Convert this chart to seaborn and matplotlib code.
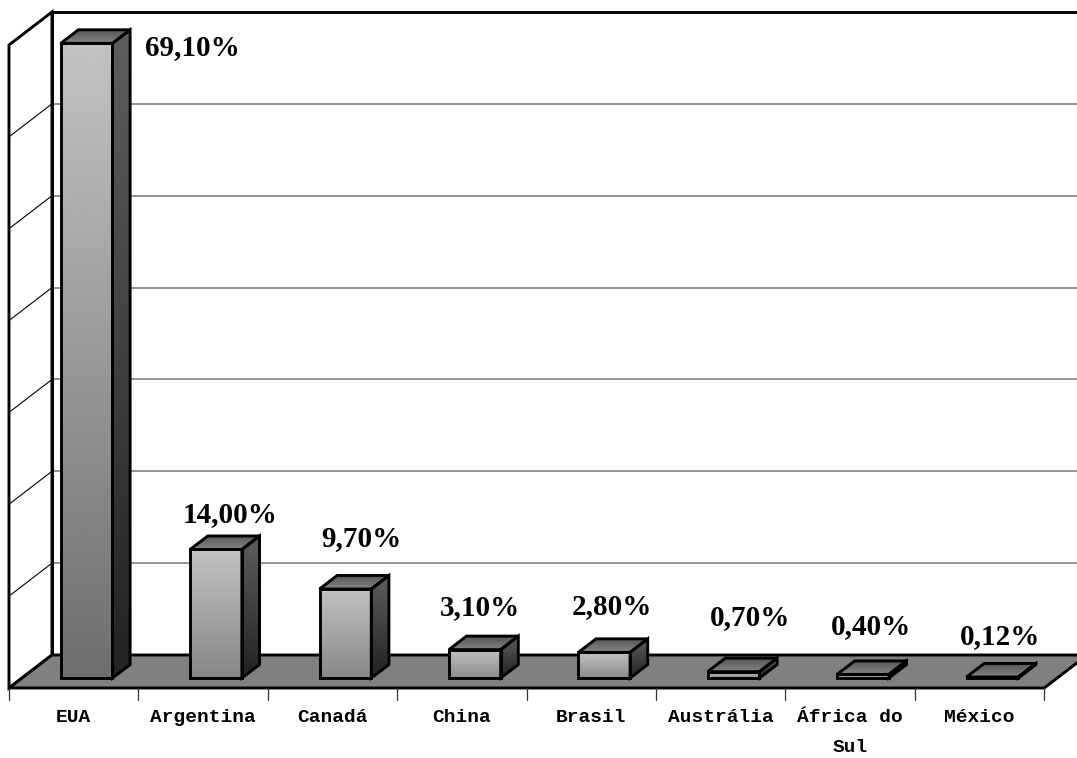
import numpy as np
import pandas as pd
import matplotlib
matplotlib.use("Agg")
import matplotlib.pyplot as plt
import matplotlib.transforms as mtransforms
from matplotlib.patches import Polygon
from matplotlib.lines import Line2D
import seaborn as sns

# ---- data -------------------------------------------------------------
countries = ["EUA", "Argentina", "Canadá", "China", "Brasil",
             "Austrália", "África do\nSul", "México"]
shares = [69.10, 14.00, 9.70, 3.10, 2.80, 0.70, 0.40, 0.12]
y_max = 70
y_step = 10

# nudges (pixels) of each value label from the top-back edge of its bar
label_nudge = [(88, -18), (-4, 21), (-2, 37), (-12, 29),
               (-10, 32), (-1, 41), (-10, 34), (-10, 27)]

# ---- geometry of the oblique 3-D box ---------------------------------
W, H, DPI = 1077, 758, 100
x_px0 = 73.7          # centre of first category on the front plane
cat_px = 129.4        # width of one category
base_px = 688.0       # floor front edge, from the top of the image
unit_px = 9.186       # pixels per percentage point
depth_dx_px, depth_dy_px = 43.0, 33.0

DX = depth_dx_px / cat_px
DY = depth_dy_px / unit_px
D0 = 0.30             # depth of the bars' front faces
BD = 0.41             # depth of the bars
BW = 0.40             # width of the bars
EDGE = 2.1            # outline width of bars and box


def vy(py):
    return (base_px - py) / unit_px


sns.set_theme(style="white")
plt.rcParams["font.family"] = ["Liberation Serif", "DejaVu Serif"]

fig = plt.figure(figsize=(W / DPI, H / DPI), dpi=DPI)
ax = fig.add_axes([0, 0, 1, 1])

df = pd.DataFrame({"country": countries, "share": shares})
sns.barplot(data=df, x="country", y="share", width=BW, color="white",
            errorbar=None, ax=ax, zorder=6)
bars = list(ax.patches)

n = len(countries)
xl, xr = -0.5, n - 0.5

# ---- walls, grid and floor -------------------------------------------
back = Polygon([(xl + DX, DY), (xr + 2, DY), (xr + 2, y_max + DY),
                (xl + DX, y_max + DY)], closed=True, facecolor="white",
               edgecolor="none", zorder=1)
ax.add_patch(back)
for g in range(y_step, y_max, y_step):
    ax.add_line(Line2D([xl + DX, xr + 2], [g + DY, g + DY], color="#808080",
                       lw=1.2, zorder=2))
    ax.add_line(Line2D([xl, xl + DX], [g, g + DY], color="black",
                       lw=0.8, zorder=2))
ax.add_line(Line2D([xl + DX, xr + 2], [y_max + DY, y_max + DY],
                   color="black", lw=EDGE, zorder=2))
ax.add_line(Line2D([xl + DX, xl + DX], [DY, y_max + DY],
                   color="black", lw=EDGE, zorder=2))

left = Polygon([(xl, 0), (xl + DX, DY), (xl + DX, y_max + DY), (xl, y_max)],
               closed=True, facecolor="none", edgecolor="black", lw=EDGE,
               zorder=2.5)
ax.add_patch(left)

floor = Polygon([(xl, 0), (xr, 0), (xr + DX, DY), (xl + DX, DY)],
                closed=True, facecolor="#808080", edgecolor="black", lw=EDGE,
                zorder=3)
ax.add_patch(floor)

tick_len = 12 / unit_px
for k in range(n + 1):
    ax.add_line(Line2D([xl + k, xl + k], [0, -tick_len], color="#303030",
                       lw=0.9, zorder=3))


def shaded(poly, extent, lo, hi, z):
    ramp = np.linspace(lo, hi, 256).reshape(-1, 1)
    im = ax.imshow(ramp, extent=extent, origin="lower", aspect="auto",
                   cmap="gray", vmin=0, vmax=255, interpolation="bilinear",
                   zorder=z)
    im.set_clip_path(poly)


# ---- bars ---------------------------------------------------------------
shift = mtransforms.Affine2D().translate(D0 * DX, D0 * DY) + ax.transData
for bar, v in zip(bars, shares):
    bar.set_transform(shift)
    bar.set_facecolor("none")
    bar.set_edgecolor("black")
    bar.set_linewidth(EDGE)
    bar.set_zorder(6)
    bar.set_joinstyle("miter")

    x0 = bar.get_x() + D0 * DX
    x1 = x0 + bar.get_width()
    y0 = D0 * DY
    y1 = bar.get_height() + D0 * DY

    # front face
    bottom = 140 - 30 * (v / y_max)
    shaded(bar, (x0, x1, y0, y1), bottom, 194, 5)

    # side face
    side = Polygon([(x1, y0), (x1 + BD * DX, y0 + BD * DY),
                    (x1 + BD * DX, y1 + BD * DY), (x1, y1)], closed=True,
                   facecolor="none", edgecolor="black", lw=EDGE, zorder=6,
                   joinstyle="miter")
    ax.add_patch(side)
    shaded(side, (x1, x1 + BD * DX, y0, y1 + BD * DY), 34, 94, 5)

    # top face
    top = Polygon([(x0, y1), (x1, y1), (x1 + BD * DX, y1 + BD * DY),
                   (x0 + BD * DX, y1 + BD * DY)], closed=True,
                  facecolor="none", edgecolor="black", lw=EDGE, zorder=6,
                  joinstyle="miter")
    ax.add_patch(top)
    shaded(top, (x0, x1 + BD * DX, y1, y1 + BD * DY), 132, 84, 5)

# ---- value labels -------------------------------------------------------
for i, (v, nudge) in enumerate(zip(shares, label_nudge)):
    text = f"{v:.2f}".replace(".", ",") + "%"
    ax.annotate(text, xy=(i + (D0 + BD) * DX, v + (D0 + BD) * DY),
                xytext=nudge, textcoords="offset pixels", ha="center",
                va="center", fontsize=21, fontweight="bold",
                family=["Liberation Serif", "DejaVu Serif"], color="black",
                zorder=10)

# ---- category labels ----------------------------------------------------
for i, name in enumerate(countries):
    ax.text(i, vy(709), name, ha="center", va="top", fontsize=14,
            fontweight="bold", family=["Liberation Mono", "DejaVu Sans Mono"],
            linespacing=2.0, color="black", zorder=10)

ax.set_xlim(-x_px0 / cat_px, (W - x_px0) / cat_px)
ax.set_ylim(vy(H), vy(0))
ax.set_axis_off()

fig.savefig("out.png", dpi=DPI)
